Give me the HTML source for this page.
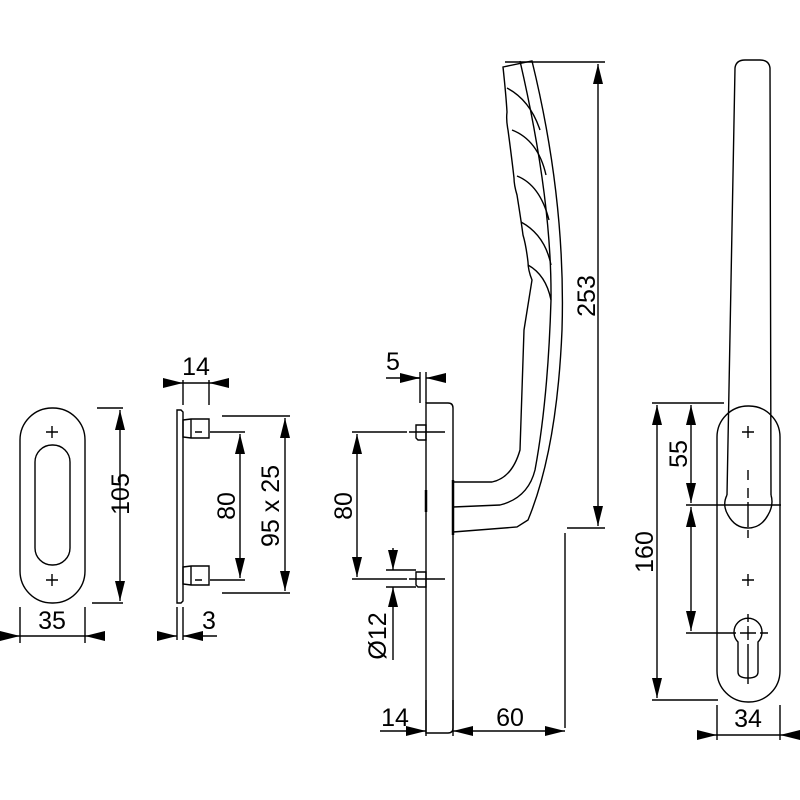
<!DOCTYPE html>
<html><head><style>html,body{margin:0;padding:0;background:#fff}svg{display:block}text{font-family:"Liberation Sans",Arial,sans-serif;font-size:25px;fill:#000}</style></head>
<body>
<svg width="800" height="800" viewBox="0 0 800 800" xmlns="http://www.w3.org/2000/svg">
<defs>
<marker id="a" viewBox="0 0 20 10" refX="20" refY="5" markerWidth="20" markerHeight="10" markerUnits="userSpaceOnUse" orient="auto-start-reverse"><path d="M0,0L20,5L0,10z" fill="#000"/></marker>
</defs>
<g fill="none" stroke="#000" stroke-width="1.4">
<rect x="20" y="408" width="65" height="195" rx="32"/>
<rect x="35" y="445" width="35" height="120" rx="17"/>
<path d="M46 432h12M52 426v12M46 580h12M52 574v12"/>
<path d="M97 408h26M92 603h31"/>
<line x1="120" y1="410" x2="120" y2="601" marker-start="url(#a)" marker-end="url(#a)"/>
<path d="M20 607v36M85 607v36"/>
<line x1="0" y1="636" x2="20" y2="636" marker-end="url(#a)"/>
<line x1="104" y1="636" x2="85" y2="636" marker-end="url(#a)"/>
<line x1="20" y1="636" x2="85" y2="636"/>

<path d="M177 410h4l2 2v189l-2 2h-4z"/>
<path d="M183 420l8-1h18v19h-18l-8-1z M183 567l8-1h18v19h-18l-8-1z M191 419v19M191 566v19"/>
<path d="M183 380v25M209 380v25"/>
<line x1="163" y1="383" x2="183" y2="383" marker-end="url(#a)"/>
<line x1="229" y1="383" x2="209" y2="383" marker-end="url(#a)"/>
<line x1="183" y1="383" x2="209" y2="383"/>
<path d="M195 432h7M210 432h35M195 580h7M210 580h35" />
<line x1="240" y1="434" x2="240" y2="578" marker-start="url(#a)" marker-end="url(#a)"/>
<path d="M222 416h68M222 593h68"/>
<line x1="285" y1="418" x2="285" y2="591" marker-start="url(#a)" marker-end="url(#a)"/>
<path d="M177 607v33M183 607v33"/>
<line x1="158" y1="636" x2="177" y2="636" marker-end="url(#a)"/>
<line x1="217" y1="636" x2="183" y2="636" marker-end="url(#a)"/>

<path d="M426 403h22q5 0 5 5v320q0 5-5 5h-22z"/>
<path d="M416 425h10v15h-8l-2-2z M416 572h10v15h-8l-2-2z"/>
<path d="M453 480v55" stroke-width="2.5"/>
<path d="M426 490v22" stroke-width="2.5"/>
<path d="M453 482L492 482Q512 478 520 450L524 330L532 280Q528 270 528 262Q526 245 523 235Q521 220 517 195Q514 185 514 178Q512 160 508 130Q506 120 507 112Q506 95 503 67L532 61Q566 200 562 330Q557 450 528 520L517 527L453 532"/>
<path d="M453 507L500 505Q528 498 535 470Q548 400 551 300Q552 200 520 61"/>
<path d="M507 88Q530 100 540 130M512 130Q538 140 546 175M517 176Q540 185 549 220M521 222Q545 235 551 265M528 265Q546 275 551 300"/>
<path d="M420 372v31M426 372v31"/>
<line x1="386" y1="378" x2="420" y2="378"/>
<line x1="400" y1="378" x2="420" y2="378" marker-end="url(#a)"/>
<line x1="446" y1="378" x2="426" y2="378" marker-end="url(#a)"/>
<path d="M352 432h55M409 432h36M352 579h55M409 579h36"/>
<line x1="357" y1="434" x2="357" y2="577" marker-start="url(#a)" marker-end="url(#a)"/>
<path d="M386 570h30M386 587h30"/>
<line x1="393" y1="548" x2="393" y2="570" marker-end="url(#a)"/>
<line x1="393" y1="660" x2="393" y2="587" marker-end="url(#a)"/>
<path d="M426 700v36M453 700v36M565 533v195M505 62h100M567 528h38"/>
<line x1="380" y1="731" x2="426" y2="731" marker-end="url(#a)"/>
<line x1="453" y1="731" x2="565" y2="731" marker-start="url(#a)" marker-end="url(#a)"/>
<line x1="598" y1="64" x2="598" y2="526" marker-start="url(#a)" marker-end="url(#a)"/>

<rect x="717" y="406" width="63" height="296" rx="31"/>
<path d="M727 495L735 68Q736 60 745 60H760Q769 60 770 68L771 495"/>
<path d="M727 495Q722 505 728 515Q735 528 748 528Q761 528 768 515Q774 505 771 495"/>
<path d="M742 432h12M748 426v12M742 580h12M748 574v12"/>
<path d="M748 470v10M748 488v10M748 502v25M748 530v8" />
<path d="M738 642A14 14 0 1 1 758 642V672Q758 678 748 678Q738 678 738 672Z"/>
<path d="M728 633h8M740 633h16M760 633h8M748 614v8M748 626v14M748 644v40"/>
<path d="M652 403h72M652 700h66M686 505h95M686 633h42"/>
<line x1="657" y1="405" x2="657" y2="698" marker-start="url(#a)" marker-end="url(#a)"/>
<line x1="691" y1="405" x2="691" y2="503" marker-start="url(#a)" marker-end="url(#a)"/>
<line x1="691" y1="507" x2="691" y2="631" marker-start="url(#a)" marker-end="url(#a)"/>
<path d="M717 705v35M780 705v35"/>
<line x1="697" y1="735" x2="717" y2="735" marker-end="url(#a)"/>
<line x1="800" y1="735" x2="780" y2="735" marker-end="url(#a)"/>
<line x1="717" y1="735" x2="780" y2="735"/>
</g>
<text x="52" y="629" text-anchor="middle">35</text>
<text transform="translate(129,494) rotate(-90)" text-anchor="middle">105</text>
<text x="196" y="375" text-anchor="middle">14</text>
<text transform="translate(235,506) rotate(-90)" text-anchor="middle">80</text>
<text transform="translate(279,506) rotate(-90)" text-anchor="middle">95 x 25</text>
<text x="209" y="629" text-anchor="middle">3</text>
<text x="393" y="370" text-anchor="middle">5</text>
<text transform="translate(352,506) rotate(-90)" text-anchor="middle">80</text>
<text transform="translate(386,636) rotate(-90)" text-anchor="middle">Ø12</text>
<text x="395" y="726" text-anchor="middle">14</text>
<text x="510" y="726" text-anchor="middle">60</text>
<text transform="translate(595,296) rotate(-90)" text-anchor="middle">253</text>
<text transform="translate(653,552) rotate(-90)" text-anchor="middle">160</text>
<text transform="translate(687,454) rotate(-90)" text-anchor="middle">55</text>
<text x="748" y="727" text-anchor="middle">34</text>
</svg>
</body></html>
